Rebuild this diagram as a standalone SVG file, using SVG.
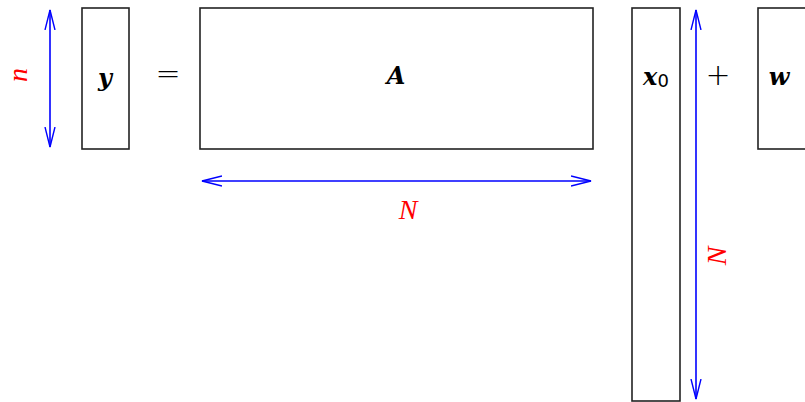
<svg xmlns="http://www.w3.org/2000/svg" width="805" height="402" viewBox="0 0 805 402">
<style>
.box{fill:#fff;stroke:#222;stroke-width:1.6}
.arr{stroke:#0000ff;stroke-width:1.6;fill:none}
.m{font-family:"DejaVu Serif","Liberation Serif",serif;font-weight:bold;font-style:italic;font-size:24px;fill:#000;text-anchor:middle;dominant-baseline:central}
.op{font-family:"DejaVu Sans","Liberation Sans",sans-serif;font-weight:200;font-size:30px;fill:#000;text-anchor:middle;dominant-baseline:central}
.lbl{font-family:"Liberation Serif","DejaVu Serif",serif;font-style:italic;font-size:28px;fill:#ff0000;text-anchor:middle;dominant-baseline:central}
</style>
<defs>
<marker id="ah" viewBox="0 0 21 12" refX="20" refY="6" markerWidth="21" markerHeight="12" markerUnits="userSpaceOnUse" orient="auto-start-reverse">
<path d="M0,1 L20,6 L0,11" fill="none" stroke="#0000ff" stroke-width="1.4"/>
</marker>
</defs>
<g id="node-y"><rect class="box" x="82" y="8" width="47" height="141"/><text class="m" x="105" y="77">y</text></g>
<g id="eq"><text class="op" x="168" y="73">=</text></g>
<g id="node-A"><rect class="box" x="200" y="8" width="393" height="141"/><text class="m" x="396" y="75">A</text></g>
<g id="node-x0"><rect class="box" x="632" y="8" width="48" height="393"/><text class="m" x="656" y="76">x<tspan font-family="DejaVu Sans,sans-serif" font-weight="normal" font-style="normal" font-size="18" dy="4">0</tspan></text></g>
<g id="plus"><text class="op" x="718" y="74">+</text></g>
<g id="node-w"><rect class="box" x="758" y="8" width="60" height="141"/><text class="m" x="779" y="76">w</text></g>
<g id="connectors">
<line class="arr" x1="50" y1="10" x2="50" y2="147" marker-start="url(#ah)" marker-end="url(#ah)"/>
<line class="arr" x1="202" y1="181" x2="591" y2="181" marker-start="url(#ah)" marker-end="url(#ah)"/>
<line class="arr" x1="696" y1="10" x2="696" y2="399" marker-start="url(#ah)" marker-end="url(#ah)"/>
</g>
<g id="labels">
<text class="lbl" transform="translate(17,75) rotate(-90)">n</text>
<text class="lbl" x="408" y="209">N</text>
<text class="lbl" transform="translate(716,256) rotate(-90)">N</text>
</g>
</svg>
